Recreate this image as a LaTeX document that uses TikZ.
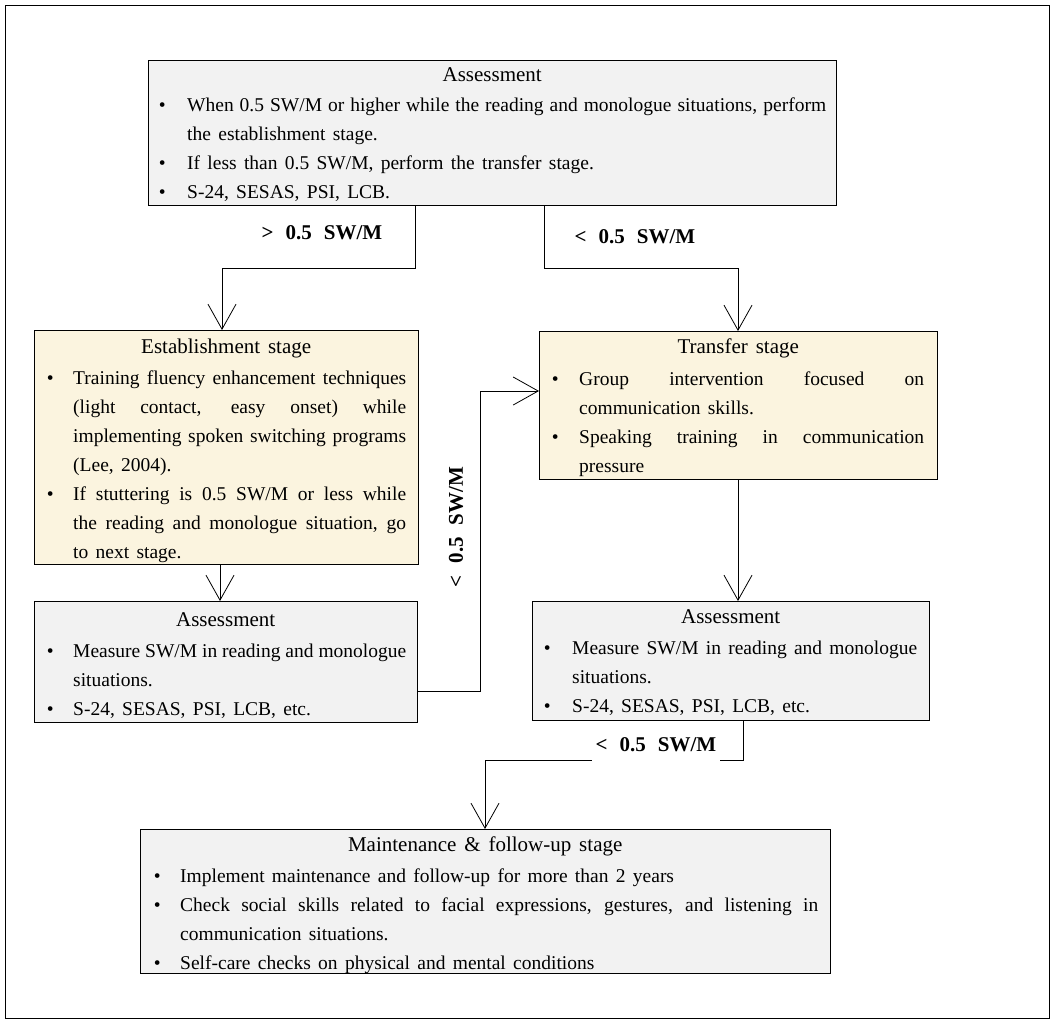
\documentclass[tikz,border=0pt]{standalone}
\usepackage{fontspec}
\setmainfont{Liberation Serif}[WordSpace=1.5]
\newfontfamily\lblfont{Liberation Serif}
\usetikzlibrary{arrows.meta}
\definecolor{grayfill}{HTML}{F2F2F2}
\definecolor{creamfill}{HTML}{FBF4DF}
\newdimen\bww \newdimen\bxc \newdimen\txo \newdimen\tww
\newcommand\setbx[4]{\bww=#1pt\bxc=#2pt\txo=#3pt\tww=#4pt}
\newcommand\ttl[1]{\hbox to\bww{\hfil\fontsize{21pt}{29pt}\selectfont#1\hfil}}
\newcommand\bul{\rlap{\hskip\dimexpr\bxc-3.4pt\relax\textbullet}}
\newcommand\jl[1]{\hbox{\hskip\txo\hbox to\tww{#1}}}
\newcommand\lft[1]{\hbox{\hskip\txo\hbox to\tww{#1\hfil}}}
\newcommand\bjl[1]{\hbox{\bul\hskip\txo\hbox to\tww{#1}}}
\newcommand\blft[1]{\hbox{\bul\hskip\txo\hbox to\tww{#1\hfil}}}
\newcommand\lines[1]{\vtop{\baselineskip=29pt\lineskiplimit=-100pt\lineskip=0pt #1}}
\begin{document}
\begin{tikzpicture}[x=1pt,y=-1pt,
  box/.style={draw=black,line width=0.9pt,anchor=north west,inner sep=0pt},
  gbox/.style={box,fill=grayfill},
  cbox/.style={box,fill=creamfill},
  txt/.style={anchor=base west,inner sep=0pt,font=\fontsize{19.5pt}{29pt}\selectfont},
  arr/.style={line width=0.8pt,-{Straight Barb[length=25pt,width=28pt,line width=0.8pt]}},
  conn/.style={line width=0.8pt},
  lbl/.style={inner sep=0pt,font=\lblfont\fontsize{21pt}{22pt}\selectfont\bfseries}
]
\useasboundingbox (0,0) rectangle (1056,1026);
\node[draw=black,line width=1.4pt,anchor=north west,minimum width=1044pt,minimum height=1013pt,inner sep=0pt] (frame) at (5,5) {};

% boxes
\node[gbox,minimum width=688pt,minimum height=145pt] (top) at (148,60) {};
\node[cbox,minimum width=384pt,minimum height=234pt] (est) at (34,330) {};
\node[gbox,minimum width=383pt,minimum height=121pt] (asl) at (34,601) {};
\node[cbox,minimum width=398pt,minimum height=148pt] (tr) at (539,331) {};
\node[gbox,minimum width=397pt,minimum height=119pt] (asr) at (532,601) {};
\node[gbox,minimum width=690pt,minimum height=144pt] (mt) at (140,829) {};

% texts
\node[txt] (topt) at (148,81) {\setbx{688}{14}{39}{639}\lines{%
 \ttl{Assessment}\kern1pt
 \bjl{When 0.5 SW/M or higher while the reading and monologue situations, perform}
 \lft{the establishment stage.}
 \blft{If less than 0.5 SW/M, perform the transfer stage.}
 \blft{S-24, SESAS, PSI, LCB.}}};

\node[txt] (estt) at (34,353) {\setbx{384}{16}{39}{333}\lines{%
 \ttl{Establishment stage}\kern2pt
 \bjl{Training fluency enhancement techniques}
 \jl{(light contact, easy onset) while}
 \jl{implementing spoken switching programs}
 \lft{(Lee, 2004).}
 \bjl{If stuttering is 0.5 SW/M or less while}
 \jl{the reading and monologue situation, go}
 \lft{to next stage.}}};

\node[txt] (aslt) at (34,626) {\setbx{383}{16}{39}{333}\lines{%
 \ttl{Assessment}\kern2pt
 \bjl{Measure SW/M in reading and monologue}
 \lft{situations.}
 \blft{S-24, SESAS, PSI, LCB, etc.}}};

\node[txt] (trt) at (539,353) {\setbx{398}{16}{40}{345}\lines{%
 \ttl{Transfer stage}\kern3pt
 \bjl{Group intervention focused on}
 \lft{communication skills.}
 \bjl{Speaking training in communication}
 \lft{pressure}}};

\node[txt] (asrt) at (532,623) {\setbx{397}{15}{40}{345}\lines{%
 \ttl{Assessment}\kern2pt
 \bjl{Measure SW/M in reading and monologue}
 \lft{situations.}
 \blft{S-24, SESAS, PSI, LCB, etc.}}};

\node[txt] (mtt) at (140,851) {\setbx{690}{17}{40}{638}\lines{%
 \ttl{Maintenance \& follow-up stage}\kern2pt
 \blft{Implement maintenance and follow-up for more than 2 years}
 \bjl{Check social skills related to facial expressions, gestures, and listening in}
 \lft{communication situations.}
 \blft{Self-care checks on physical and mental conditions}}};

% connector bend points
\coordinate (a1) at (415,268);
\coordinate (a2) at (222,268);
\coordinate (b1) at (544,268);
\coordinate (b2) at (738,268);
\coordinate (c1) at (480,691);
\coordinate (c2) at (480,391);
\coordinate (d1) at (743,760);
\coordinate (d2) at (485,760);

\draw[arr] (top.south -| a1) -- (a1) -- (a2) -- (a2 |- est.north);
\draw[arr] (top.south -| b1) -- (b1) -- (b2) -- (b2 |- tr.north);
\draw[arr] (est.south -| 220,0) -- (asl.north -| 220,0);
\draw[arr] (asl.east |- c1) -- (c1) -- (c2) -- (c2 -| tr.west);
\draw[arr] (tr.south -| 738,0) -- (asr.north -| 738,0);
\draw[arr] (asr.south -| d1) -- (d1) -- (d2) -- (d2 |- mt.north);

% labels
\node[lbl] (l1) at (322,233) {>\hspace{12pt}0.5\hspace{12pt}SW/M};
\node[lbl] (l2) at (635,237) {<\hspace{12pt}0.5\hspace{12pt}SW/M};
\node[lbl,rotate=90] (l3) at (456,527) {<\hspace{12pt}0.5\hspace{12pt}SW/M};
\node[lbl,fill=white,minimum width=128pt,minimum height=34pt] (l4) at (656,745) {<\hspace{12pt}0.5\hspace{12pt}SW/M};
\end{tikzpicture}
\end{document}
